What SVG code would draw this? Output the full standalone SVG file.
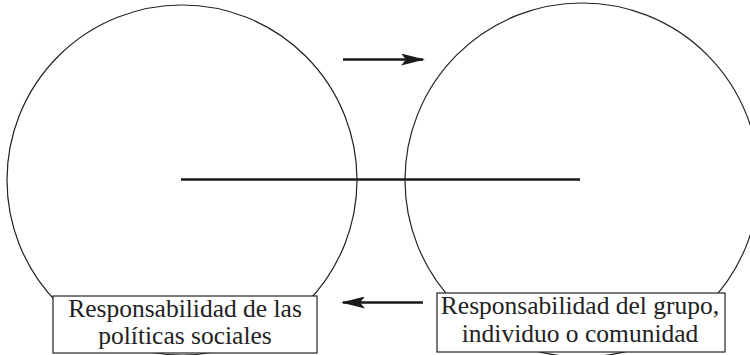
<svg xmlns="http://www.w3.org/2000/svg" width="750" height="355" viewBox="0 0 750 355">
  <style>
    .ring { fill: none; stroke: #222; stroke-width: 1.2; }
    .box rect { fill: #fff; stroke: #222; stroke-width: 1.2; }
    .box text { font-family: "Liberation Serif", "Times New Roman", serif; font-size: 25.5px; fill: #222; text-anchor: middle; }
    .link { stroke: #1a1a1a; stroke-width: 2.4; fill: none; }
  </style>
  <defs>
    <marker id="head" viewBox="0 0 24 12" refX="22" refY="6" markerWidth="24" markerHeight="12" markerUnits="userSpaceOnUse" orient="auto">
      <path d="M0,0 L24,6 L0,12 L5,6 Z" fill="#1a1a1a"/>
    </marker>
  </defs>

  <g id="circle-left">
    <circle class="ring" cx="182" cy="180" r="175"/>
  </g>
  <g id="circle-right">
    <circle class="ring" cx="582" cy="180" r="177"/>
  </g>

  <g id="connectors">
    <line class="link" x1="181" y1="179.5" x2="580" y2="179.5"/>
    <line class="link" x1="343" y1="59.5" x2="423" y2="59.5" marker-end="url(#head)"/>
    <line class="link" x1="423" y1="302.5" x2="343" y2="302.5" marker-end="url(#head)"/>
  </g>

  <g id="box-left" class="box">
    <rect x="53" y="296" width="264" height="57"/>
    <text x="185" y="317">Responsabilidad de las</text>
    <text x="185" y="343.5">políticas sociales</text>
  </g>
  <g id="box-right" class="box">
    <rect x="437" y="293" width="288" height="59"/>
    <text x="580" y="314">Responsabilidad del grupo,</text>
    <text x="580" y="342">individuo o comunidad</text>
  </g>
</svg>
